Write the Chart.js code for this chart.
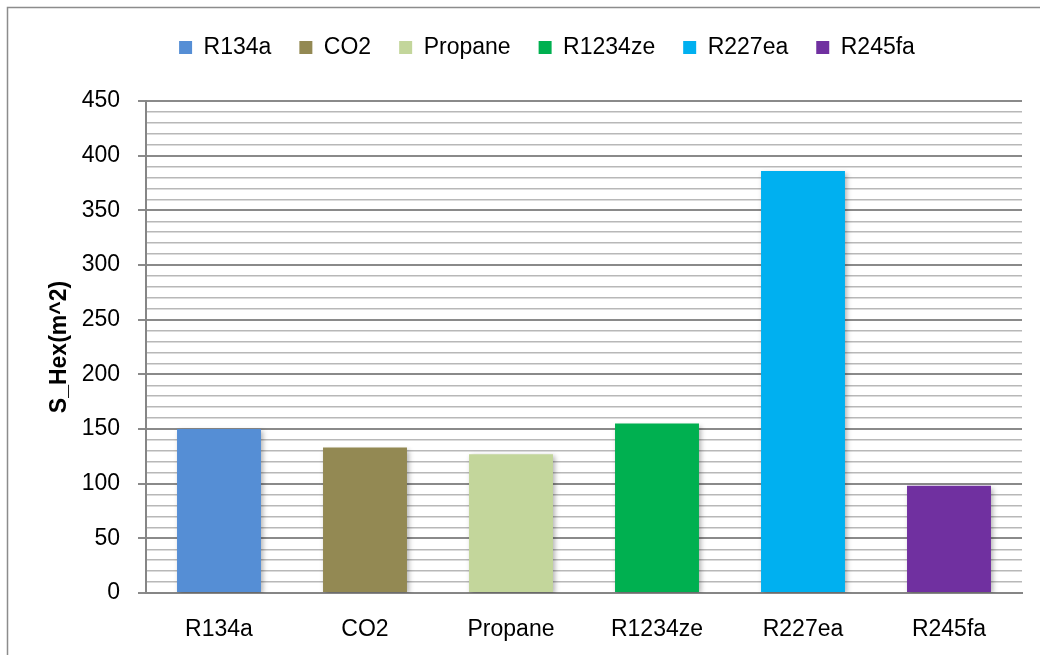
<!DOCTYPE html>
<html>
<head>
<meta charset="utf-8">
<script src="https://cdn.jsdelivr.net/npm/chart.js@4/dist/chart.umd.min.js"></script>
<style>
  html, body { margin: 0; padding: 0; background: #fff; }
  #wrap { width: 1040px; height: 655px; position: relative; }
</style>
</head>
<body>
<div id="wrap"><canvas id="hexChart" width="1040" height="655"></canvas></div>
<script>
// datos
const categories = ['R134a', 'CO2', 'Propane', 'R1234ze', 'R227ea', 'R245fa'];
const hexArea = [150, 133, 127, 155, 386, 98];
const barColors = ['#558ed5', '#938953', '#c3d69b', '#00b050', '#00b0f0', '#7030a0'];
const yTicks = [0, 50, 100, 150, 200, 250, 300, 350, 400, 450];

const font = "'Liberation Sans', 'DejaVu Sans', sans-serif";

// marco exterior, espacio bajo la leyenda y sombra de las barras
const framePlugin = {
    id: 'frame',
    beforeInit(chart) {
        const fit = chart.legend.fit;
        chart.legend.fit = function () {
            fit.call(this);
            this.height += 32;
        };
    },
    beforeDraw(chart) {
        const c = chart.ctx;
        c.save();
        c.fillStyle = '#fff';
        c.fillRect(0, 0, chart.width, chart.height);
        c.strokeStyle = '#8c8c8c';
        c.lineWidth = 1.5;
        c.strokeRect(7.5, 7.5, chart.width + 20, chart.height + 20);
        c.restore();
    },
    beforeDatasetsDraw(chart) {
        const c = chart.ctx;
        c.save();
        c.shadowColor = 'rgba(0,0,0,0.3)';
        c.shadowBlur = 5;
        c.shadowOffsetX = 2;
        c.shadowOffsetY = 2;
    },
    afterDatasetsDraw(chart) {
        chart.ctx.restore();
    }
};

function renderHexChart() {
    const ctx = document.getElementById('hexChart').getContext('2d');
    new Chart(ctx, {
        type: 'bar',
        data: {
            labels: categories,
            datasets: [{
                label: 'S_Hex',
                data: hexArea,
                backgroundColor: barColors,
                borderWidth: 0,
                categoryPercentage: 1.0,
                barPercentage: 0.575
            }]
        },
        options: {
            responsive: false,
            animation: false,
            layout: { padding: { top: 8, right: 18, left: 72, bottom: 0 } },
            plugins: {
                tooltip: { enabled: false },
                legend: {
                    position: 'top',
                    labels: {
                        font: { family: font, size: 23 },
                        color: '#000',
                        boxWidth: 13,
                        boxHeight: 13,
                        padding: 28,
                        generateLabels: () => categories.map((name, i) => ({
                            text: name,
                            fillStyle: barColors[i],
                            strokeStyle: barColors[i],
                            lineWidth: 0,
                            hidden: false,
                            index: i
                        }))
                    },
                    onClick: null
                }
            },
            scales: {
                x: {
                    grid: { display: false },
                    border: { color: '#868686', width: 2 },
                    ticks: { font: { family: font, size: 23 }, color: '#000', padding: 15 },
                    afterFit: s => { s.height = 62; }
                },
                y: {
                    min: 0,
                    max: 450,
                    border: { color: '#868686', width: 2 },
                    grid: {
                        color: c => (c.tick && c.tick.value % 50 === 0) ? '#8a8a8a' : '#b8b8b8',
                        lineWidth: c => (c.tick && c.tick.value % 50 === 0) ? 2 : 1.5,
                        tickLength: 8,
                        tickColor: c => (c.tick && c.tick.value % 50 === 0) ? '#8a8a8a' : 'rgba(0,0,0,0)'
                    },
                    ticks: {
                        stepSize: 10,
                        autoSkip: false,
                        font: { family: font, size: 23 },
                        color: '#000',
                        padding: 18,
                        callback: v => yTicks.includes(v) ? String(v) : ''
                    },
                    title: {
                        display: true,
                        text: 'S_Hex(m^2)',
                        font: { family: font, size: 23, weight: 'bold' },
                        color: '#000',
                        padding: { top: -26, bottom: 0 }
                    },
                    afterFit: s => { s.width = 74; }
                }
            }
        },
        plugins: [framePlugin]
    });
}

renderHexChart();
</script>
</body>
</html>
